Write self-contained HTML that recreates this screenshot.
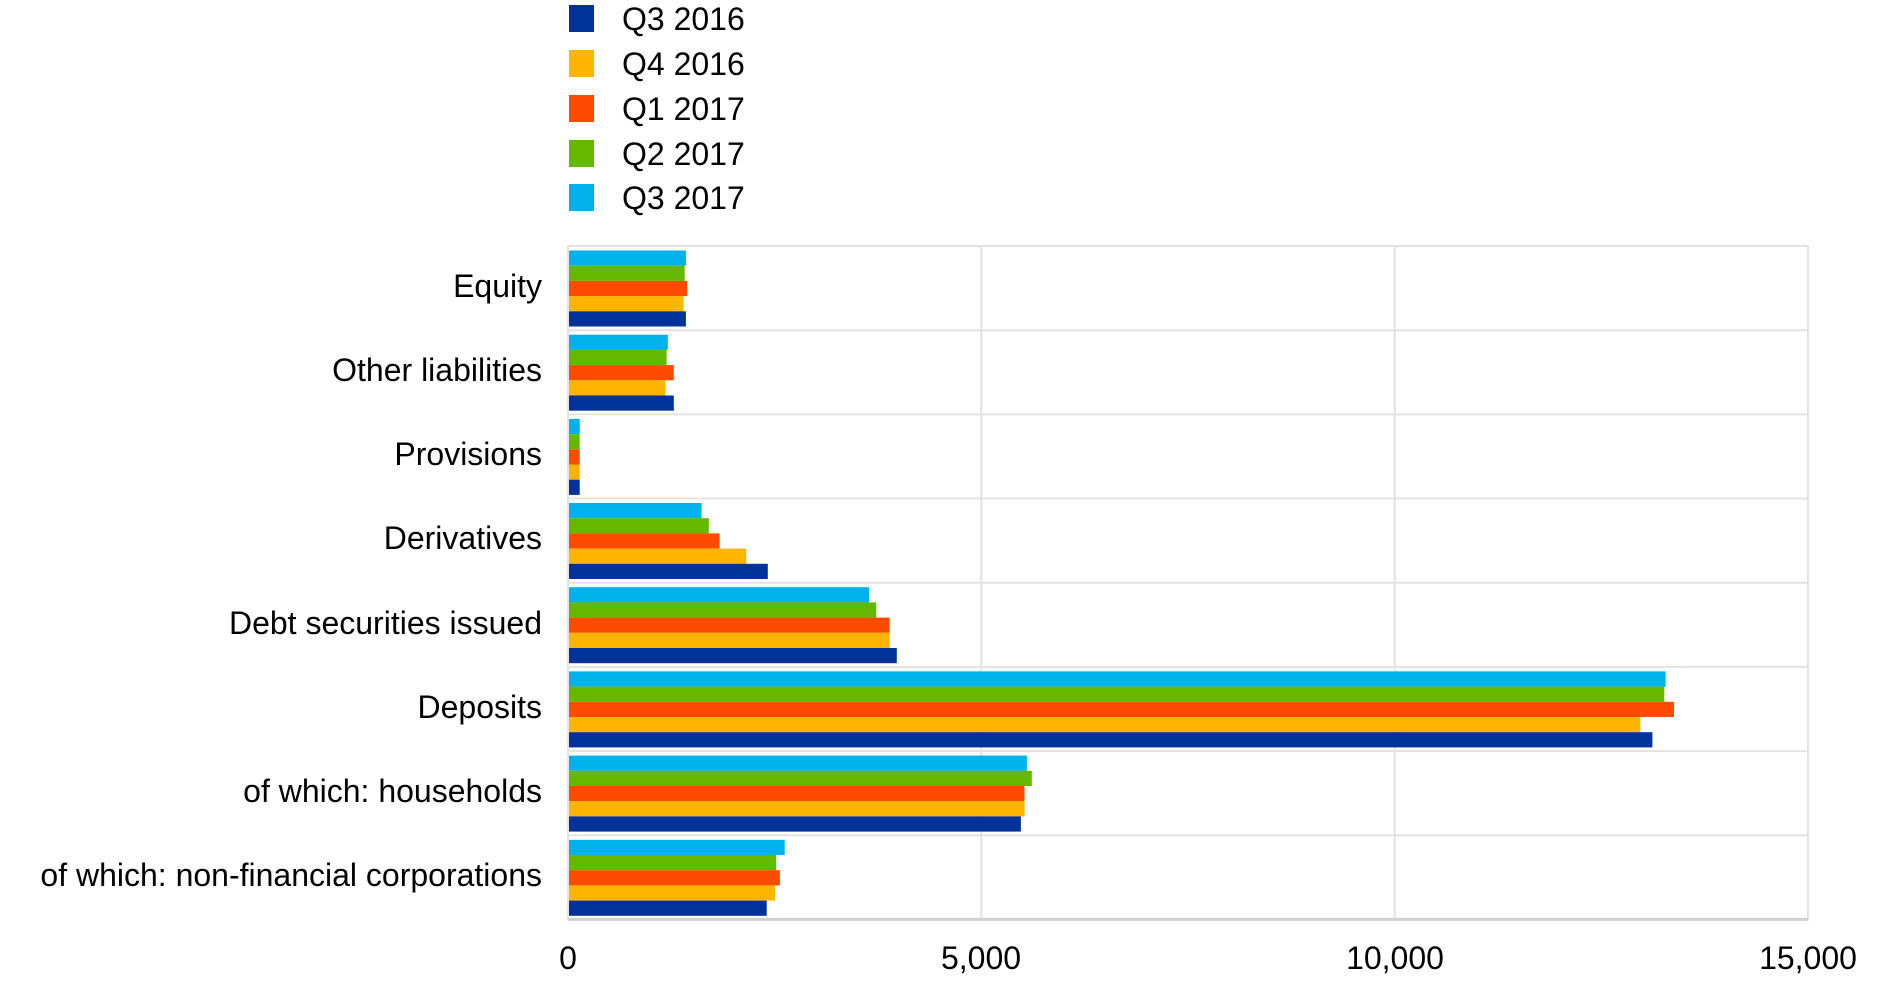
<!DOCTYPE html>
<html><head><meta charset="utf-8"><style>
html,body{margin:0;padding:0;background:#fff;}
svg{display:block;font-family:"Liberation Sans",Arial,sans-serif;}
</style></head><body>
<svg width="1890" height="987" viewBox="0 0 1890 987" xmlns="http://www.w3.org/2000/svg">
<g font-size="32" fill="#000">
<rect x="569" y="5" width="25" height="27" fill="#003299"/><text x="622" y="30">Q3 2016</text>
<rect x="569" y="50" width="25" height="27" fill="#ffb400"/><text x="622" y="75">Q4 2016</text>
<rect x="569" y="95" width="25" height="27" fill="#ff4b00"/><text x="622" y="120">Q1 2017</text>
<rect x="569" y="140" width="25" height="27" fill="#65b800"/><text x="622" y="165">Q2 2017</text>
<rect x="569" y="184" width="25" height="27" fill="#00b1ea"/><text x="622" y="209">Q3 2017</text>
</g>
<g stroke="#e3e3e3" stroke-width="2" fill="none">
<rect x="568" y="246" width="1240" height="673.4"/>
<line x1="981.3" y1="246" x2="981.3" y2="919.4"/>
<line x1="1394.7" y1="246" x2="1394.7" y2="919.4"/>
<line x1="568" y1="330.2" x2="1808" y2="330.2"/>
<line x1="568" y1="414.4" x2="1808" y2="414.4"/>
<line x1="568" y1="498.5" x2="1808" y2="498.5"/>
<line x1="568" y1="582.7" x2="1808" y2="582.7"/>
<line x1="568" y1="666.9" x2="1808" y2="666.9"/>
<line x1="568" y1="751.1" x2="1808" y2="751.1"/>
<line x1="568" y1="835.3" x2="1808" y2="835.3"/>
</g>
<line x1="568" y1="919.4" x2="1808" y2="919.4" stroke="#d0d0d0" stroke-width="3"/>
<g transform="translate(569,246)">
<rect y="4.5" width="116.9" height="15.2" fill="#00b1ea"/><rect y="19.7" width="115.7" height="15.2" fill="#65b800"/><rect y="34.9" width="118.1" height="15.2" fill="#ff4b00"/><rect y="50.1" width="114.5" height="15.2" fill="#ffb400"/><rect y="65.3" width="116.9" height="15.2" fill="#003299"/>
</g>
<g transform="translate(569,330.2)">
<rect y="4.5" width="98.8" height="15.2" fill="#00b1ea"/><rect y="19.7" width="97.6" height="15.2" fill="#65b800"/><rect y="34.9" width="104.8" height="15.2" fill="#ff4b00"/><rect y="50.1" width="96.4" height="15.2" fill="#ffb400"/><rect y="65.3" width="104.8" height="15.2" fill="#003299"/>
</g>
<g transform="translate(569,414.4)">
<rect y="4.5" width="10.7" height="15.2" fill="#00b1ea"/><rect y="19.7" width="10.7" height="15.2" fill="#65b800"/><rect y="34.9" width="10.7" height="15.2" fill="#ff4b00"/><rect y="50.1" width="10.7" height="15.2" fill="#ffb400"/><rect y="65.3" width="10.7" height="15.2" fill="#003299"/>
</g>
<g transform="translate(569,498.5)">
<rect y="4.5" width="132.6" height="15.2" fill="#00b1ea"/><rect y="19.7" width="139.8" height="15.2" fill="#65b800"/><rect y="34.9" width="150.6" height="15.2" fill="#ff4b00"/><rect y="50.1" width="177.2" height="15.2" fill="#ffb400"/><rect y="65.3" width="198.8" height="15.2" fill="#003299"/>
</g>
<g transform="translate(569,582.7)">
<rect y="4.5" width="300.1" height="15.2" fill="#00b1ea"/><rect y="19.7" width="307.3" height="15.2" fill="#65b800"/><rect y="34.9" width="320.6" height="15.2" fill="#ff4b00"/><rect y="50.1" width="320.6" height="15.2" fill="#ffb400"/><rect y="65.3" width="327.8" height="15.2" fill="#003299"/>
</g>
<g transform="translate(569,666.9)">
<rect y="4.5" width="1096.6" height="15.2" fill="#00b1ea"/><rect y="19.7" width="1095.3" height="15.2" fill="#65b800"/><rect y="34.9" width="1105" height="15.2" fill="#ff4b00"/><rect y="50.1" width="1071.3" height="15.2" fill="#ffb400"/><rect y="65.3" width="1083.4" height="15.2" fill="#003299"/>
</g>
<g transform="translate(569,751.1)">
<rect y="4.5" width="457.9" height="15.2" fill="#00b1ea"/><rect y="19.7" width="462.8" height="15.2" fill="#65b800"/><rect y="34.9" width="455.5" height="15.2" fill="#ff4b00"/><rect y="50.1" width="455.5" height="15.2" fill="#ffb400"/><rect y="65.3" width="451.9" height="15.2" fill="#003299"/>
</g>
<g transform="translate(569,835.3)">
<rect y="4.5" width="215.7" height="15.2" fill="#00b1ea"/><rect y="19.7" width="207.2" height="15.2" fill="#65b800"/><rect y="34.9" width="210.9" height="15.2" fill="#ff4b00"/><rect y="50.1" width="206.1" height="15.2" fill="#ffb400"/><rect y="65.3" width="197.7" height="15.2" fill="#003299"/>
</g>
<g font-size="32" fill="#000" text-anchor="end">
<text x="542" y="297">Equity</text>
<text x="542" y="381">Other liabilities</text>
<text x="542" y="465">Provisions</text>
<text x="542" y="549">Derivatives</text>
<text x="542" y="634">Debt securities issued</text>
<text x="542" y="718">Deposits</text>
<text x="542" y="802">of which: households</text>
<text x="542" y="886">of which: non-financial corporations</text>
</g>
<g font-size="32" fill="#000" text-anchor="middle">
<text x="568" y="969">0</text>
<text x="981" y="969">5,000</text>
<text x="1395" y="969">10,000</text>
<text x="1808" y="969">15,000</text>
</g>
</svg>
</body></html>
